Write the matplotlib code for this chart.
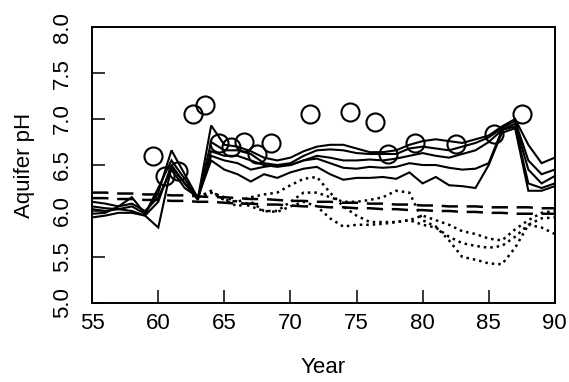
import matplotlib
matplotlib.use("Agg")
import matplotlib.pyplot as plt

plt.rcParams['font.family'] = ['Liberation Sans', 'DejaVu Sans']

years = list(range(55, 91))
years_late = list(range(63, 91))

# Solid lines (55-90)
solid_1 = [6.02, 6.00, 6.02, 6.05, 5.97, 6.20, 6.66, 6.40, 6.14, 6.93,
           6.72, 6.70, 6.65, 6.58, 6.55, 6.58, 6.65, 6.70, 6.72, 6.72,
           6.68, 6.64, 6.64, 6.66, 6.72, 6.76, 6.78, 6.76, 6.74, 6.78,
           6.82, 6.92, 7.00, 6.72, 6.52, 6.58]
solid_2 = [5.97, 5.98, 6.05, 6.15, 5.97, 6.25, 6.55, 6.35, 6.13, 6.75,
           6.66, 6.66, 6.62, 6.52, 6.50, 6.52, 6.60, 6.66, 6.67, 6.66,
           6.63, 6.62, 6.62, 6.62, 6.68, 6.70, 6.68, 6.66, 6.70, 6.74,
           6.80, 6.90, 6.98, 6.55, 6.40, 6.45]
solid_3 = [6.05, 6.03, 6.02, 6.00, 5.95, 5.82, 6.48, 6.30, 6.12, 6.65,
           6.60, 6.60, 6.55, 6.50, 6.48, 6.50, 6.55, 6.60, 6.58, 6.55,
           6.55, 6.56, 6.55, 6.57, 6.60, 6.63, 6.60, 6.58, 6.62, 6.66,
           6.75, 6.88, 6.95, 6.45, 6.30, 6.38]
solid_4 = [5.93, 5.95, 5.98, 5.98, 5.95, 6.10, 6.50, 6.30, 6.15, 6.60,
           6.55, 6.52, 6.45, 6.48, 6.50, 6.50, 6.55, 6.57, 6.52, 6.47,
           6.46, 6.48, 6.47, 6.48, 6.52, 6.50, 6.50, 6.47, 6.45, 6.46,
           6.52, 6.88, 6.92, 6.30, 6.25, 6.30]
solid_5 = [6.10, 6.08, 6.05, 6.08, 6.00, 6.15, 6.45, 6.25, 6.15, 6.55,
           6.45, 6.40, 6.32, 6.40, 6.36, 6.42, 6.46, 6.48, 6.40, 6.34,
           6.36, 6.36, 6.37, 6.35, 6.42, 6.30, 6.37, 6.28, 6.27, 6.25,
           6.50, 6.85, 6.90, 6.22, 6.22, 6.27]

# Dashed lines (55-90)
dashed_1 = [6.20, 6.20, 6.19, 6.19, 6.18, 6.18, 6.17, 6.17, 6.16, 6.15,
            6.15, 6.14, 6.13, 6.13, 6.12, 6.11, 6.11, 6.10, 6.10, 6.09,
            6.09, 6.08, 6.08, 6.07, 6.07, 6.06, 6.06, 6.05, 6.05, 6.05,
            6.04, 6.04, 6.04, 6.04, 6.03, 6.03]
dashed_2 = [6.14, 6.14, 6.13, 6.13, 6.12, 6.12, 6.11, 6.11, 6.10, 6.10,
            6.09, 6.08, 6.08, 6.07, 6.07, 6.06, 6.05, 6.05, 6.04, 6.04,
            6.03, 6.03, 6.02, 6.02, 6.01, 6.01, 6.00, 6.00, 5.99, 5.99,
            5.98, 5.98, 5.97, 5.97, 5.97, 5.97]

# Dotted lines (63-90)
dotted_1 = [6.15, 6.22, 6.12, 6.10, 6.15, 6.18, 6.20, 6.28, 6.35, 6.37,
            6.20, 6.05, 5.95, 5.88, 5.88, 5.88, 5.90, 5.85, 5.82, 5.72,
            5.65, 5.62, 5.60, 5.62, 5.72, 5.85, 5.82, 5.75]
dotted_2 = [6.15, 6.20, 6.12, 6.05, 6.10, 6.00, 6.00, 6.10, 6.20, 6.20,
            6.15, 6.10, 6.10, 6.12, 6.15, 6.22, 6.20, 5.90, 5.83, 5.68,
            5.50, 5.47, 5.43, 5.42, 5.60, 5.85, 5.92, 5.93]
dotted_3 = [6.15, 6.20, 6.15, 6.10, 6.05, 6.00, 5.99, 6.05, 6.10, 6.05,
            5.92, 5.83, 5.85, 5.85, 5.86, 5.88, 5.90, 5.95, 5.90, 5.85,
            5.78, 5.75, 5.70, 5.68, 5.80, 5.90, 5.98, 6.00]

# Observed pH (open circles)
obs_year = [59.6, 60.5, 61.5, 62.6, 63.5, 64.6, 65.5, 66.5, 67.5, 68.5,
            71.5, 74.5, 76.4, 77.4, 79.4, 82.5, 85.4, 87.5]
obs_ph = [6.60, 6.38, 6.44, 7.06, 7.15, 6.74, 6.70, 6.75, 6.62, 6.74,
          7.06, 7.08, 6.97, 6.62, 6.74, 6.73, 6.84, 7.06]

xticks = [55, 60, 65, 70, 75, 80, 85, 90]
yticks = [5.0, 5.5, 6.0, 6.5, 7.0, 7.5, 8.0]
ytick_labels = ["5.0", "5.5", "6.0", "6.5", "7.0", "7.5", "8.0"]

fig = plt.figure(figsize=(5.69, 3.82), dpi=100)
ax = fig.add_axes([0.162, 0.207, 0.813, 0.722])

for s in [solid_1, solid_2, solid_3, solid_4, solid_5]:
    ax.plot(years, s, color='black', lw=1.5, solid_joinstyle='miter')
for s in [dashed_1, dashed_2]:
    ax.plot(years, s, color='black', lw=1.8, dashes=(6.5, 3.5))
for s in [dotted_1, dotted_2, dotted_3]:
    ax.plot(years_late, s, color='black', lw=1.8, dashes=(1.0, 1.6))
ax.plot(obs_year, obs_ph, linestyle='none', marker='o', markersize=13,
        markerfacecolor='none', markeredgecolor='black', markeredgewidth=1.5)

ax.set_xlim(55, 90)
ax.set_ylim(5.0, 8.0)
ax.set_xticks(xticks)
ax.set_xticklabels([str(x) for x in xticks])
ax.set_yticks(yticks)
ax.set_yticklabels(ytick_labels, rotation=90, va='center')

ax.tick_params(direction='in', length=9.5, width=1.1, labelsize=16,
               top=False, right=False)
ax.tick_params(axis='y', pad=14)
ax.tick_params(axis='x', pad=7)
for sp in ax.spines.values():
    sp.set_linewidth(1.4)

ax.set_xlabel('Year', fontsize=16, labelpad=17)
ax.set_ylabel('Aquifer pH', fontsize=16, labelpad=12)

fig.savefig('out.png', dpi=100)
